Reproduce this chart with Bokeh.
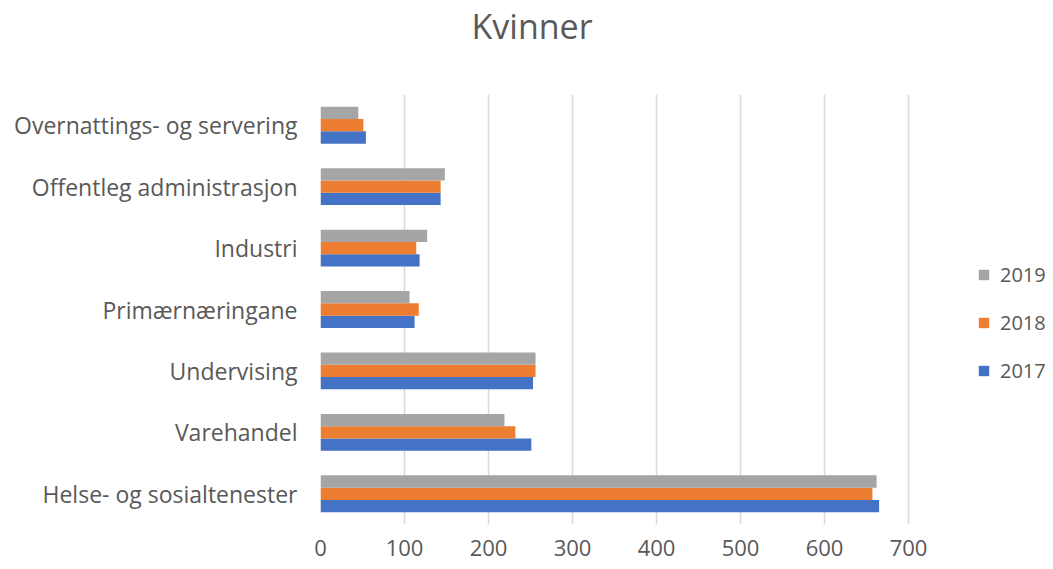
from bokeh.plotting import figure
from bokeh.models import FactorRange, Range1d, Legend, LegendItem, ColumnDataSource
from bokeh.transform import dodge
from bokeh.embed import file_html
from bokeh.resources import INLINE

# ---- data (bottom to top, as drawn) ----
categories = [
    "Helse- og sosialtenester",
    "Varehandel",
    "Undervising",
    "Primærnæringane",
    "Industri",
    "Offentleg administrasjon",
    "Overnattings- og servering",
]
v2017 = [665, 251, 253, 112, 118, 143, 54]
v2018 = [657, 232, 256, 117, 114, 143, 51]
v2019 = [662, 219, 256, 106, 127, 148, 45]
years = ["2017", "2018", "2019"]
colors = ["#4472C4", "#ED7D31", "#A5A5A5"]
x_ticks = [0, 100, 200, 300, 400, 500, 600, 700]
title_text = "Kvinner"

FONT = "Open Sans"
TXT = "#595959"

# layout (pixels)
W, H = 1053, 569
LEFT, AXIS_RIGHT = 320, 908          # pixel x of value 0 and of the last tick
x_max = x_ticks[-1] * (W - LEFT) / (AXIS_RIGHT - LEFT)   # frame runs to the right edge; legend sits inside it

source = ColumnDataSource(data=dict(cat=categories, y2017=v2017, y2018=v2018, y2019=v2019))

p = figure(
    width=W, height=H,
    y_range=FactorRange(factors=categories),
    x_range=Range1d(0, x_max),
    output_backend="svg", toolbar_location=None,
    min_border_left=LEFT, min_border_right=0, min_border_top=90, min_border_bottom=45,
)

offsets = [-0.2, 0.0, 0.2]
renderers = []
for yr, col, off in zip(years, colors, offsets):
    r = p.hbar(y=dodge("cat", off, range=p.y_range), right="y" + yr, left=0, height=0.2,
               source=source, fill_color=col, line_color=None)
    renderers.append(r)

# title (second empty line pushes it to the top of the chart)
p.title.text = title_text + "\n "
p.title.text_font = FONT
p.title.text_font_size = "34px"
p.title.text_font_style = "normal"
p.title.text_color = TXT
p.title.align = "left"
p.title.offset = 151
p.title.standoff = 0

# axes
p.xaxis.ticker = x_ticks
p.xaxis.axis_line_color = None
p.xaxis.major_tick_line_color = None
p.xaxis.minor_tick_line_color = None
p.xaxis.major_tick_out = 0
p.xaxis.major_label_standoff = 15
p.xaxis.major_label_text_font = FONT
p.xaxis.major_label_text_font_size = "22px"
p.xaxis.major_label_text_color = TXT

p.yaxis.axis_line_color = None
p.yaxis.major_tick_line_color = None
p.yaxis.major_tick_out = 0
p.yaxis.major_label_standoff = 23
p.yaxis.major_label_text_font = FONT
p.yaxis.major_label_text_font_size = "23px"
p.yaxis.major_label_text_color = TXT

p.xgrid.ticker = x_ticks
p.xgrid.grid_line_color = "#D9D9D9"
p.xgrid.grid_line_width = 1.5
p.ygrid.grid_line_color = None
p.outline_line_color = None

legend = Legend(
    items=[LegendItem(label=years[i], renderers=[renderers[i]]) for i in (2, 1, 0)],
    location=(657, 140),
    orientation="vertical",
    glyph_width=13, glyph_height=13, label_height=20, spacing=21,
    padding=0, margin=0, label_standoff=10,
    border_line_color=None, background_fill_alpha=0,
    label_text_font=FONT, label_text_font_size="20px", label_text_color=TXT,
)
p.add_layout(legend, "center")

open("out.html", "w").write(file_html(p, INLINE))
